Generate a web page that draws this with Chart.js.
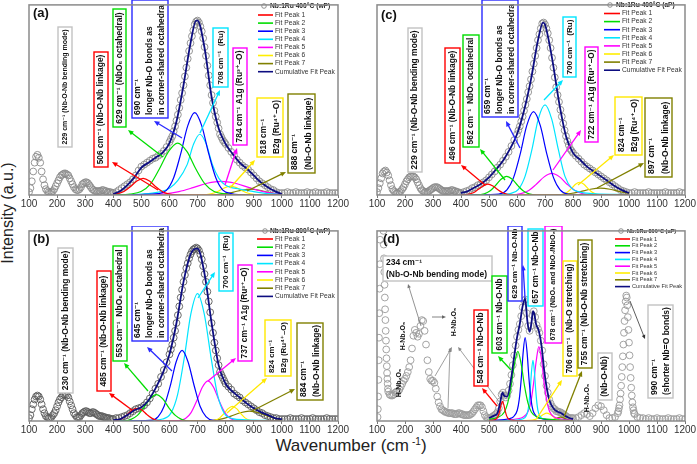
<!DOCTYPE html>
<html>
<head>
<meta charset="utf-8">
<script src="https://cdn.jsdelivr.net/npm/chart.js@4.4.1/dist/chart.umd.min.js"></script>
<style>
  body { margin: 0; background: #fff; }
  #wrap { position: relative; width: 697px; height: 464px; overflow: hidden; background: #fff;
          font-family: "Liberation Sans", "DejaVu Sans", sans-serif; color: #222; }
  #wrap canvas { position: absolute; }
  #ytitle { position: absolute; left: 8px; top: 213px; transform: translate(-50%, -50%) rotate(-90deg);
            font-size: 16px; white-space: nowrap; }
  #xtitle { position: absolute; left: 351px; top: 446px; transform: translate(-50%, -50%);
            font-size: 17px; white-space: nowrap; }
  #xtitle sup { font-size: 10px; margin-left: 3px; }
</style>
</head>
<body>
<div id="wrap">
  <div id="ytitle">Intensity (a.u.)</div>
  <div id="xtitle">Wavenumber (cm<sup>-1</sup>)</div>
</div>
<script>
// ---- data ----
const xTicks = [100, 200, 300, 400, 500, 600, 700, 800, 900, 1000, 1100, 1200];
const fitNames = ['Fit Peak 1', 'Fit Peak 2', 'Fit Peak 3', 'Fit Peak 4', 'Fit Peak 5', 'Fit Peak 6', 'Fit Peak 7', 'Cumulative Fit Peak'];
const samples = ['Nb:1Ru 400°C (wP)', 'Nb:1Ru 800°C (wP)', 'Nb:1Ru 400°C (aP)', 'Nb:1Ru 800°C (aP)'];

// wavenumbers of the measured spectra (a), (b), (c)
const gridX = [
  100,105,110,115,120,125,130,135,140,145,150,155,160,165,170,175,180,185,190,195,
  200,205,210,215,220,225,230,235,240,245,250,255,260,265,270,275,280,285,290,295,
  300,305,310,315,320,325,330,335,340,345,350,355,360,365,370,375,380,385,390,395,
  400,410,420,430,440,450,460,470,480,490,
  500,510,520,530,540,550,560,570,580,590,
  600,605,610,615,620,625,630,635,640,645,
  650,655,660,665,670,675,680,685,690,695,
  700,705,710,715,720,725,730,735,740,745,
  750,755,760,765,770,775,780,785,790,795,
  800,
  810,820,830,840,850,860,870,880,890,900,
  910,920,930,940,950,960,970,980,990,1000,
  1010,1020,1030,1040,1050,1060,1070,1080,1090,1100,
  1110,1120,1130,1140,1150,1160,1170,1180,1190,1200
];
const expA = [
  3,7,14,24,33,39,41,38,33,24,16,10,6,4,3,3,3,4,6,9,
  12,15,18,20,21,22,22,21,20,17,14,11,8,6,5,5,6,8,11,12,
  13,13,12,10,8,6,5,4,4,4,4,4,5,5,4,4,3,3,3,2,
  2,3,5,7,9,11,13,16,20,25,
  29,31,33,35,37,38,40,42,45,49,
  54,57,60,65,70,76,82,89,97,104,
  112,121,130,139,147,155,162,168,174,177,
  178,176,172,167,160,151,142,132,122,112,
  102,94,86,80,74,68,62,59,56,54,
  52,
  48,44,40,36,33,30,28,26,23,20,
  17,14,12,10,8,6,5,3,2,2,
  2,3,2,2,3,2,2,2,3,2,
  2,3,2,2,2,3,2,2,2,2
];
const expB = [
  3,6,12,17,22,25,26,25,22,17,12,8,5,4,3,3,4,6,8,11,
  15,19,22,24,26,27,27,26,24,20,16,12,8,6,4,4,4,6,8,9,
  10,10,9,8,8,9,9,8,7,6,5,5,5,4,4,3,3,3,2,2,
  2,3,3,4,5,6,8,10,12,13,
  14,16,19,23,28,33,38,45,52,60,
  68,73,78,85,92,100,108,117,126,134,
  142,149,156,161,166,170,173,175,176,177,
  176,174,170,165,158,150,142,132,122,111,
  100,90,80,72,64,57,50,47,44,41,
  38,
  35,32,28,26,24,21,19,17,15,13,
  11,9,8,6,5,4,3,3,2,2,
  2,2,3,2,2,2,3,2,2,2,
  3,2,2,2,2,3,2,2,2,2
];
const expC = [
  3,7,12,17,22,24,25,23,20,15,10,6,4,3,2,2,3,4,6,8,
  11,14,16,18,19,19,19,18,16,13,10,7,5,4,3,3,3,4,5,6,
  7,8,8,8,7,6,5,4,4,4,4,4,4,5,5,4,4,3,3,2,
  2,3,4,5,7,8,10,11,13,15,
  18,21,24,28,31,35,39,44,50,56,
  62,66,70,75,80,86,92,98,105,111,
  118,126,134,142,150,158,164,170,175,176,
  174,170,165,158,150,140,130,120,110,102,
  95,87,80,73,66,60,55,51,47,45,
  43,
  40,37,34,31,29,27,25,23,21,19,
  17,15,13,11,9,7,5,4,3,2,
  2,3,2,2,2,2,3,2,2,2,
  2,2,3,2,2,2,2,3,2,2
];
// spectrum (d): [wavenumber, intensity]
const expD = [
  [102,4],[103,12],[104,25],[105,42],[106,62],[107,85],[108,110],[109,135],[110,160],[111,185],
  [112,210],[113,235],[114,255],[115,265],[116,268],[117,265],[118,258],[119,248],[120,236],[121,222],
  [122,208],[123,194],[124,180],[125,166],[126,152],[127,139],[128,126],[129,114],[130,103],[131,92],
  [132,82],[133,73],[134,64],[135,56],[136,49],[137,43],[138,38],[139,33],[140,30],
  [145,27],[150,26],[155,26],[160,27],[165,29],[170,30],[175,30],[180,32],[185,35],[190,38],
  [195,41],[200,43],[205,46],[210,50],[215,55],[220,62],[225,74],[230,87],[235,93],[240,90],
  [245,86],[250,89],[255,97],[260,103],[265,102],[270,92],[275,78],[280,62],[285,50],[290,43],
  [295,41],[300,41],[305,39],[310,33],[315,25],[320,19],[325,15],[330,12],[335,11],[340,10],
  [345,9],[350,9],[355,8],[360,8],[365,8],[370,8],[375,7],[380,7],[385,7],[390,8],
  [395,8],[400,7],[405,7],[410,6],[415,6],[420,6],[425,6],[430,6],[435,7],[440,8],
  [445,10],[450,12],[455,14],[460,16],[465,16],[470,16],[475,14],[480,10],[485,6],[490,4],
  [495,3],[500,3],
  [505,3],[510,4],[515,5],[520,6],[525,7],[530,9],[535,13],[540,20],[545,27],[550,29],
  [555,26],[560,24],[565,26],[570,31],[575,38],[580,47],[585,57],[590,67],[595,77],[600,86],
  [605,93],[610,99],[615,107],[620,116],[625,123],[630,124],[635,110],[640,97],[645,92],[650,97],
  [655,108],[660,112],[665,106],[670,98],[675,94],[680,90],[685,82],[690,72],[695,58],[700,46],
  [705,36],[710,29],[715,22],[720,18],[725,15],[730,13],[735,12],[740,10],[745,10],[750,9],
  [755,9],[760,8],[765,7],[770,6],[775,5],[780,4],[785,3],[790,3],[795,3],[800,3],
  [810,3],[820,4],[830,6],[840,8],[850,7],[860,5],[870,8],[880,13],[890,16],[900,15],
  [910,11],[920,6],[930,3],[940,3],[950,4],[960,8],
  [962,10],[964,13],[966,16],[968,22],[970,28],[972,36],[974,45],[976,55],[978,66],[980,78],
  [982,90],[984,102],[986,113],[988,122],[990,128],[992,126],[994,118],[996,106],[998,93],[1000,80],
  [1002,67],[1004,55],[1006,44],[1008,34],[1010,26],[1012,19],[1014,14],[1016,11],[1018,8],[1020,7],
  [1030,4],[1040,3],[1050,3],[1060,2],[1070,3],[1080,2],[1090,2],[1100,3],[1110,2],[1120,2],
  [1130,2],[1140,3],[1150,2],[1160,2],[1170,2],[1180,3],[1190,2],[1200,2]
];

// fitted components: [wavenumber, intensity]
const fitA = [
  [[400,0.8],[416,1.5],[438,3.6],[461,8.5],[484,14.3],[506,17],[529,14.3],[551,8.5],[574,3.6],[596,1.2],[630,0.2],[700,0],[1000,0]],
  [[400,0],[460,1],[499,3.5],[532,11],[564,26.5],[597,44.5],[629,53],[662,44.5],[694,26.5],[727,11],[759,3.5],[800,1],[850,0],[1000,0]],
  [[400,0],[500,0.5],[560,1.5],[590,5],[615,17.6],[640,42],[665,70.6],[690,84],[715,70.6],[740,42],[765,17.6],[790,5],[820,1.5],[880,0],[1000,0]],
  [[400,0],[500,1],[560,3],[600,7],[630,15],[663,31],[686,52],[708,62],[731,52],[753,31],[776,17],[800,10],[850,6],[900,3.5],[950,1.5],[1000,0.5]],
  [[400,0],[550,0.6],[584,1.2],[634,3.5],[684,7.5],[734,12],[784,14],[834,12],[884,7.5],[934,3.5],[984,1.2],[1000,0.8]],
  [[400,0],[714,0],[738,0.6],[758,2],[778,4.5],[798,7.5],[818,9],[838,7.5],[858,4.5],[878,2],[898,0.6],[922,0],[1000,0]],
  [[400,0],[740,0],[768,0.3],[798,1.2],[828,3],[858,5],[888,6],[918,5],[948,3],[978,1.2],[1000,0.5]]
];
const cumA = [[400,1],[425,4],[450,10],[475,18],[500,28],[525,33],[550,38],[575,43],[600,53],[625,75],[650,112],[675,155],[695,178],[700,178],[725,150],[750,100],[775,68],[800,52],[825,42],[850,33],[875,27],[900,20],[925,13],[950,8],[975,4],[1000,1]];

const fitB = [
  [[400,0],[415,0.8],[432,2.7],[450,6.5],[467,10.9],[485,13],[503,10.9],[520,6.5],[538,2.7],[555,0.8],[576,0],[1000,0]],
  [[400,0],[436,0],[463,1.7],[486,5.7],[508,13.5],[531,22.7],[553,27],[576,22.7],[598,13.5],[621,5.7],[643,1.7],[670,0],[1000,0]],
  [[400,0],[535,0.7],[560,4.5],[581,15],[603,36],[624,60.5],[645,72],[666,60.5],[688,36],[709,15],[730,4.5],[755,0.7],[800,0],[1000,0]],
  [[400,0],[520,0.5],[576,2],[605,8],[629,27],[653,65],[676,109],[700,130],[724,109],[748,65],[771,27],[795,8],[824,2.5],[870,1.2],[950,0.5],[1000,0.3]],
  [[400,0],[600,0],[633,0.4],[657,2.6],[677,8.6],[697,20.5],[717,34.5],[737,41],[757,34.5],[777,20.5],[797,8.6],[817,2.6],[841,0.4],[880,0],[1000,0]],
  [[400,0],[746,0],[764,0.9],[779,3.2],[794,7.5],[809,12.6],[824,15],[839,12.6],[854,7.5],[869,3.2],[884,0.9],[902,0],[1000,0]],
  [[400,0],[720,0],[754,0.6],[787,2.1],[819,5],[852,8.4],[884,10],[917,8.4],[949,5],[982,2.1],[1000,1.2]]
];
const cumB = [[400,1],[425,2],[450,6],[475,11],[500,14],[525,21],[550,33],[575,48],[600,68],[625,100],[650,142],[675,170],[695,176],[700,176],[725,150],[750,100],[775,57],[800,38],[825,30],[850,24],[875,18],[900,13],[925,9],[950,6],[975,3],[1000,2]];

const fitC = [
  [[400,0],[405,0],[426,0.7],[444,2.3],[461,5.5],[479,9.2],[496,11],[514,9.2],[531,5.5],[549,2.3],[566,0.7],[587,0],[1000,0]],
  [[400,0],[459,0],[483,1.2],[503,4],[523,9.5],[543,16],[563,19],[583,16],[603,9.5],[623,4],[643,1.2],[667,0],[1000,0]],
  [[400,0],[500,0.3],[535,0.8],[564,5.3],[588,18],[612,42.5],[635,71],[659,85],[683,71],[706,42.5],[730,18],[754,5.3],[783,0.8],[830,0],[1000,0]],
  [[400,0],[540,0.5],[576,1.5],[605,5.8],[629,19.3],[653,46],[676,77.5],[700,92],[724,77.5],[748,46],[771,19.3],[795,7],[824,3],[870,1.5],[950,0.6],[1000,0.3]],
  [[400,0],[580,0],[614,1.4],[642,4.6],[669,11],[697,18.5],[724,22],[752,18.5],[779,11],[807,4.6],[834,1.4],[868,0],[1000,0]],
  [[400,0],[746,0],[764,0.8],[779,2.7],[794,6.5],[809,10.9],[824,13],[839,10.9],[854,6.5],[869,2.7],[884,0.8],[902,0],[1000,0]],
  [[400,0],[720,0],[757,0.4],[792,1.5],[827,3.5],[862,5.9],[897,7],[932,5.9],[967,3.5],[1000,1.6]]
];
const cumC = [[400,2],[425,4],[450,8],[475,12],[500,18],[525,26],[550,35],[575,47],[600,62],[625,86],[650,118],[675,158],[693,176],[700,174],[725,140],[750,95],[775,60],[800,43],[825,36],[850,29],[875,24],[900,19],[925,14],[950,9],[975,5],[1000,2]];

const fitD = [
  [[500,0.3],[508,0.6],[518,1],[528,2.6],[533,5.2],[538,10],[543,16.4],[548,20],[553,16.4],[558,10],[563,5.2],[568,2.6],[578,1],[588,0.6],[608,0.3],[650,0],[800,0]],
  [[500,1.8],[531,3.5],[555,9.2],[567,18.5],[579,35.5],[591,58],[603,71],[615,58],[627,35.5],[639,18.5],[651,9.2],[675,3.5],[699,2.1],[747,0.9],[800,0.4]],
  [[500,0.5],[545,1.1],[573,2.5],[587,4.3],[601,11],[608,22],[615,42.5],[622,70],[629,85],[636,70],[643,42.5],[650,22],[657,11],[671,4.3],[685,2.5],[713,1.1],[800,0.4]],
  [[500,0.2],[597,0.8],[617,1.9],[627,3.1],[637,8],[642,16],[647,31],[652,51],[657,62],[662,51],[667,31],[672,16],[677,8],[687,3.1],[697,1.9],[717,0.8],[800,0.2]],
  [[500,0.4],[564,1],[602,2.3],[621,3.8],[640,10],[650,20],[659,38],[669,62],[678,76],[688,62],[697,38],[707,20],[716,10],[735,3.8],[754,2.3],[792,1],[800,0.9]],
  [[500,0],[631,0.4],[656,1],[669,2.1],[681,4],[694,6.6],[706,8],[719,6.6],[731,4],[744,2.1],[756,1],[781,0.4],[800,0.2]],
  [[500,0],[695,0.2],[715,0.5],[725,1],[735,2],[745,3.3],[755,4],[765,3.3],[775,2],[785,1],[795,0.5],[800,0.4]]
];
const cumD = [[500,3],[520,5.7],[530,7.7],[540,19],[548,29],[555,25.5],[565,25],[580,45],[590,66],[600,85],[610,99],[620,117],[629,125],[637,102],[645,91],[652,101],[657,112],[662,109],[668,99],[678,92],[688,76],[697,52],[706,34],[716,21],[730,13],[745,9.4],[755,8.5],[770,5.6],[785,3.3],[800,2]];

// ---- styles ----
const FONT = '"Liberation Sans", "DejaVu Sans", sans-serif';
const RED = '#ff0000', GRN = '#00dd00', BLU = '#2a2aff', CYN = '#00e5ff', MAG = '#ff00ff', YEL = '#ffe800', OLV = '#808000', GRY = '#c2c2c2';
const peakColors = ['#ff0000', '#00dd00', '#0000ff', '#00e5ff', '#ff00ff', '#ffee00', '#808000'];
const cumColor = '#0d0d80';

// annotation boxes: page pixel positions
const notesA = [
  {b: [58, 27, 72, 147], c: GRY, t: ['229 cm⁻¹ (Nb-O-Nb bending mode)']},
  {b: [94, 52, 108, 167], c: RED, t: ['506 cm⁻¹ (Nb-O-Nb linkage)'], ar: [158, 190, 112, 162]},
  {b: [113, 9, 126, 127], c: GRN, t: ['629 cm⁻¹ (NbO₆ octahedral)'], ar: [163, 157, 128, 130]},
  {b: [132, 0, 168, 118], c: BLU, t: ['690 cm⁻¹', 'longer Nb-O bonds as', 'in corner-shared octahedra'], al: 'left', ar: [182, 138, 154, 121]},
  {b: [213, 28, 228, 87], c: CYN, t: ['708 cm⁻¹  (Ru)'], ar: [200, 133, 220, 90]},
  {b: [233, 48, 247, 145], c: MAG, t: ['784 cm⁻¹ A1g (Ru³⁺–O)'], ar: [225, 185, 237, 148]},
  {b: [257, 98, 283, 157], c: YEL, t: ['818 cm⁻¹', 'B2g (Ru⁴⁺–O)'], al: 'left', ar: [230, 188, 255, 160]},
  {b: [288, 94, 315, 173], c: OLV, t: ['888 cm⁻¹', '(Nb-O-Nb linkage)'], al: 'left', ar: [247, 191, 286, 172]}
];
const notesB = [
  {b: [58, 248, 73, 393], c: GRY, t: ['230 cm⁻¹ (Nb-O-Nb bending mode)']},
  {b: [97, 271, 111, 391], c: RED, t: ['485 cm⁻¹ (Nb-O-Nb linkage)'], ar: [132, 410, 109, 393]},
  {b: [113, 246, 127, 361], c: GRN, t: ['553 cm⁻¹  NbO₆ octahedral'], ar: [148, 391, 124, 363]},
  {b: [132, 226, 168, 341], c: BLU, t: ['645 cm⁻¹', 'longer Nb-O bonds as', 'in corner-shared octahedra'], al: 'left', ar: [172, 371, 147, 347]},
  {b: [219, 233, 233, 291], c: CYN, t: ['700 cm⁻¹  (Ru)'], ar: [198, 298, 215, 272]},
  {b: [238, 265, 252, 361], c: MAG, t: ['737 cm⁻¹ A1g (Ru³⁺–O)'], ar: [208, 381, 236, 358]},
  {b: [265, 320, 291, 376], c: YEL, t: ['824 cm⁻¹', 'B2g (Ru⁴⁺–O)'], al: 'left', ar: [227, 413, 267, 378]},
  {b: [297, 323, 323, 400], c: OLV, t: ['884 cm⁻¹', '(Nb-O-Nb linkage)'], al: 'left', ar: [252, 411, 295, 389]}
];
const notesC = [
  {b: [408, 28, 422, 172], c: GRY, t: ['229 cm⁻¹ (Nb-O-Nb bending mode)']},
  {b: [445, 48, 460, 163], c: RED, t: ['496 cm⁻¹ (Nb-O-Nb linkage)'], ar: [485, 185, 461, 165]},
  {b: [463, 35, 479, 147], c: GRN, t: ['562 cm⁻¹  NbO₆ octahedral'], ar: [505, 180, 480, 149]},
  {b: [482, 0, 518, 117], c: BLU, t: ['659 cm⁻¹', 'longer Nb-O bonds as', 'in corner-shared octahedra'], al: 'left', ar: [520, 148, 506, 121]},
  {b: [563, 17, 576, 77], c: CYN, t: ['700 cm⁻¹  (Ru)'], ar: [544, 100, 563, 80]},
  {b: [585, 47, 598, 142], c: MAG, t: ['722 cm⁻¹ A1g (Ru³⁺–O)'], ar: [553, 170, 581, 130]},
  {b: [615, 97, 642, 155], c: YEL, t: ['824 cm⁻¹', 'B2g (Ru⁴⁺–O)'], al: 'left', ar: [578, 185, 614, 155]},
  {b: [645, 98, 672, 177], c: OLV, t: ['897 cm⁻¹', '(Nb-O-Nb linkage)'], al: 'left', ar: [597, 188, 644, 163]}
];
const notesD = [
  {ar: [432, 317, 446, 317], ac: '#666', aw: 0.8},
  {ar: [435, 376, 452, 347], ac: '#888', aw: 0.8},
  {ar: [448, 408, 450, 348], ac: '#888', aw: 0.8},
  {ar: [500, 403, 458, 347], ac: '#888', aw: 0.8},
  {b: [383, 256, 492, 281], c: GRY, t: ['234 cm⁻¹', '(Nb-O-Nb bending mode)'], al: 'left', flat: true, fs: 8.5, ar: [421, 326, 408, 284], ac: '#777', aw: 0.8},
  {at: [399, 383], t: 'H-Nb₂O₅'},
  {at: [403, 336], t: 'H-Nb₂O₅'},
  {at: [454, 322], t: 'H-Nb₂O₅'},
  {b: [474, 310, 488, 386], c: RED, t: ['548 cm⁻¹ Nb-O-Nb'], ar: [497, 406, 482, 388]},
  {b: [492, 276, 507, 353], c: GRN, t: ['603 cm⁻¹ Nb-O-Nb'], ar: [511, 370, 498, 356]},
  {b: [508, 226, 522, 301], c: BLU, t: ['629 cm⁻¹ Nb-O-Nb'], ar: [525, 298, 523, 265]},
  {b: [528, 229, 543, 306], c: CYN, t: ['657 cm⁻¹ Nb-O-Nb']},
  {b: [545, 226, 562, 343], c: MAG, t: ['678 cm⁻¹ (NbO₆ and NbO₇/NbO₈)']},
  {b: [563, 261, 577, 376], c: YEL, t: ['706 cm⁻¹  (Nb-O stretching)'], ar: [537, 418, 562, 380]},
  {b: [578, 240, 592, 368], c: OLV, t: ['755 cm⁻¹ (Nb-O-Nb stretching)'], ar: [564, 417, 582, 371]},
  {at: [587, 398], t: 'H-Nb₂O₅'},
  {b: [598, 353, 612, 400], c: GRY, t: ['(Nb-O-Nb)']},
  {b: [648, 305, 673, 398], c: GRY, t: ['990 cm⁻¹', '(shorter Nb=O bonds)'], al: 'left', ar: [630, 301, 645, 339], ac: '#333', aw: 0.8}
];

const panels = [
  {left: 0, top: 0, padR: 14, letter: '(a)', lx: 33, ly: 13, exp: gridX.map((x, i) => ({x, y: expA[i]})), fits: fitA, cum: cumA,
   expColor: '#8a8a8a', sample: samples[0], notes: notesA,
   leg: {mx: 264, my: 6, hx: 270, y0: 15, dy: 8.1, s1: 258, s2: 273, tx: 275, size: 6.7}},
  {left: 0, top: 226, padR: 14, letter: '(b)', lx: 33, ly: 239, exp: gridX.map((x, i) => ({x, y: expB[i]})), fits: fitB, cum: cumB,
   expColor: '#5a5a5a', sample: samples[1], notes: notesB,
   leg: {mx: 265, my: 231, hx: 270, y0: 239, dy: 8.2, s1: 257, s2: 273, tx: 275, size: 6.7}},
  {left: 348, top: 0, padR: 15, letter: '(c)', lx: 381, ly: 15, exp: gridX.map((x, i) => ({x, y: expC[i]})), fits: fitC, cum: cumC,
   expColor: '#8a8a8a', sample: samples[2], notes: notesC,
   leg: {mx: 610, my: 5, hx: 616, y0: 13.5, dy: 8.1, s1: 604, s2: 620, tx: 622, size: 6.7}},
  {left: 348, top: 226, padR: 15, letter: '(d)', lx: 383, ly: 239, exp: expD.map(p => ({x: p[0], y: p[1]})), fits: fitD, cum: cumD,
   expColor: '#9a9a9a', sample: samples[3], notes: notesD,
   leg: {mx: 621, my: 231, hx: 627, y0: 239, dy: 6.8, s1: 615, s2: 630, tx: 632, size: 5.6}}
];

// ---- drawing helpers ----
function drawArrow(ctx, a, col, lw, ox, oy) {
  const x1 = a[0] - ox, y1 = a[1] - oy, x2 = a[2] - ox, y2 = a[3] - oy;
  const ang = Math.atan2(y2 - y1, x2 - x1);
  const hl = lw < 1 ? 4 : 5.5, hw = lw < 1 ? 1.8 : 2.4;
  const c = Math.cos(ang), s = Math.sin(ang);
  ctx.strokeStyle = col; ctx.lineWidth = lw;
  ctx.beginPath(); ctx.moveTo(x1, y1); ctx.lineTo(x2 - c * hl * 0.8, y2 - s * hl * 0.8); ctx.stroke();
  ctx.fillStyle = col;
  ctx.beginPath(); ctx.moveTo(x2, y2);
  ctx.lineTo(x2 - hl * c + hw * s, y2 - hl * s - hw * c);
  ctx.lineTo(x2 - hl * c - hw * s, y2 - hl * s + hw * c);
  ctx.closePath(); ctx.fill();
}

function drawNote(ctx, n, ox, oy) {
  if (n.at) {
    ctx.save();
    ctx.translate(n.at[0] - ox, n.at[1] - oy);
    ctx.rotate(-Math.PI / 2);
    ctx.font = 'bold 7px ' + FONT;
    ctx.fillStyle = '#111'; ctx.textAlign = 'center'; ctx.textBaseline = 'middle';
    ctx.fillText(n.t, 0, 0);
    ctx.restore();
    return;
  }
  if (!n.b) return;
  const x1 = n.b[0] - ox, y1 = n.b[1] - oy, w = n.b[2] - n.b[0], h = n.b[3] - n.b[1];
  ctx.fillStyle = '#fff'; ctx.fillRect(x1, y1, w, h);
  ctx.strokeStyle = n.c; ctx.lineWidth = 1.4; ctx.strokeRect(x1, y1, w, h);
  const along = n.flat ? w : h, across = n.flat ? h : w;
  let fs = n.fs || 8.5;
  ctx.font = 'bold ' + fs + 'px ' + FONT;
  const mw = Math.max(...n.t.map(s => ctx.measureText(s).width));
  if (!n.fs && mw > along - 5) fs = fs * (along - 5) / mw;
  ctx.font = 'bold ' + fs.toFixed(2) + 'px ' + FONT;
  const lh = Math.min(fs * 1.6, across / n.t.length);
  ctx.save();
  ctx.translate(x1 + w / 2, y1 + h / 2);
  if (!n.flat) ctx.rotate(-Math.PI / 2);
  ctx.fillStyle = '#111'; ctx.textBaseline = 'middle';
  ctx.textAlign = n.al === 'left' ? 'left' : 'center';
  const x0 = n.al === 'left' ? -along / 2 + 3 : 0;
  n.t.forEach((s, i) => ctx.fillText(s, x0, (i - (n.t.length - 1) / 2) * lh));
  ctx.restore();
}

function drawLegend(ctx, L, sample, ox, oy) {
  ctx.lineWidth = 0.8; ctx.strokeStyle = '#777';
  ctx.beginPath(); ctx.arc(L.mx - ox, L.my - oy, 2.3, 0, 2 * Math.PI); ctx.stroke();
  ctx.fillStyle = '#222'; ctx.textBaseline = 'middle'; ctx.textAlign = 'left';
  ctx.font = 'bold ' + L.size + 'px ' + FONT;
  ctx.fillText(sample, L.hx - ox, L.my - oy);
  ctx.font = L.size + 'px ' + FONT;
  fitNames.forEach((nm, i) => {
    const y = L.y0 + i * L.dy - oy;
    ctx.strokeStyle = i < 7 ? peakColors[i] : cumColor; ctx.lineWidth = 1.6;
    ctx.beginPath(); ctx.moveTo(L.s1 - ox, y); ctx.lineTo(L.s2 - ox, y); ctx.stroke();
    ctx.fillStyle = '#333'; ctx.fillText(nm, L.tx - ox, y);
  });
}

function overlayFor(p) {
  return {
    id: 'overlay',
    afterDatasetsDraw(chart) {
      const ctx = chart.ctx, a = chart.chartArea, ox = p.left, oy = p.top;
      ctx.save();
      p.notes.forEach(n => { if (n.ar) drawArrow(ctx, n.ar, n.ac || n.c, n.aw || 1.3, ox, oy); });
      p.notes.forEach(n => drawNote(ctx, n, ox, oy));
      drawLegend(ctx, p.leg, p.sample, ox, oy);
      ctx.font = 'bold 13px ' + FONT; ctx.fillStyle = '#111';
      ctx.textAlign = 'left'; ctx.textBaseline = 'middle';
      ctx.fillText(p.letter, p.lx - ox, p.ly - oy);
      ctx.strokeStyle = '#8a8a8a'; ctx.lineWidth = 1.5;
      ctx.strokeRect(a.left, a.top, a.right - a.left, a.bottom - a.top);
      ctx.restore();
    }
  };
}

// ---- charts ----
Chart.defaults.font.family = FONT;
const wrap = document.getElementById('wrap');

panels.forEach(p => {
  const cv = document.createElement('canvas');
  cv.width = 352; cv.height = 215;
  cv.style.left = p.left + 'px'; cv.style.top = p.top + 'px';
  cv.style.width = '352px'; cv.style.height = '215px';
  wrap.appendChild(cv);

  const datasets = [{
    data: p.exp, showLine: false, pointStyle: 'circle', pointRadius: 3.4,
    pointBorderColor: p.expColor, pointBackgroundColor: 'rgba(0,0,0,0)', pointBorderWidth: 0.9, order: 10
  }];
  p.fits.forEach((f, i) => datasets.push({
    data: f.map(q => ({x: q[0], y: q[1]})), showLine: true, pointRadius: 0,
    borderColor: peakColors[i], borderWidth: 1.2, cubicInterpolationMode: 'monotone', fill: false, order: 5
  }));
  datasets.push({
    data: p.cum.map(q => ({x: q[0], y: q[1]})), showLine: true, pointRadius: 0,
    borderColor: cumColor, borderWidth: 1.8, cubicInterpolationMode: 'monotone', fill: false, order: 1
  });

  new Chart(cv, {
    type: 'scatter',
    data: {datasets},
    options: {
      responsive: false, animation: false, events: [],
      layout: {padding: {left: 29, right: p.padR, top: 1, bottom: 5}},
      plugins: {legend: {display: false}, tooltip: {enabled: false}},
      scales: {
        x: {
          type: 'linear', min: 100, max: 1200,
          afterBuildTicks: s => { s.ticks = xTicks.map(v => ({value: v})); },
          afterFit: s => { s.height = 15; },
          ticks: {font: {size: 10}, color: '#333', padding: 0, maxRotation: 0, autoSkip: false,
                  callback: v => String(v)},
          grid: {drawOnChartArea: false, drawTicks: true, tickLength: 3, color: '#777'},
          border: {display: false}
        },
        y: {display: false, min: 0, max: 194}
      }
    },
    plugins: [overlayFor(p)]
  });
});
</script>
</body>
</html>
